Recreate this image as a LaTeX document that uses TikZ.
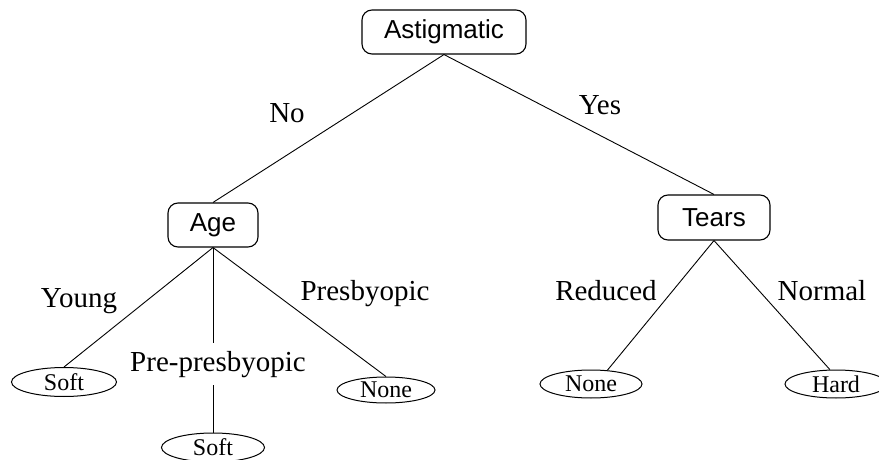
\documentclass[tikz,border=0pt]{standalone}
\usepackage{fontspec}
\setmainfont{Liberation Serif}
\setsansfont{Liberation Sans}
\usetikzlibrary{shapes.geometric}
\begin{document}
\begin{tikzpicture}[x=1pt,y=-1pt,
  line width=0.9pt,
  testbox/.style={draw, rounded corners=10pt, inner sep=0pt, line width=1.1pt,
    font=\sffamily\fontsize{26}{30}\selectfont},
  leaf/.style={draw, ellipse, inner sep=0pt, line width=1pt,
    font=\fontsize{24}{28}\selectfont},
  lbl/.style={anchor=base, inner sep=0pt, font=\fontsize{29}{33}\selectfont}]
\useasboundingbox (0,0) rectangle (879,460);
\node[testbox, minimum width=164pt, minimum height=44pt] (astig) at (444,32) {Astigmatic};
\node[testbox, minimum width=90pt, minimum height=44pt] (age) at (213,225) {Age};
\node[testbox, minimum width=112pt, minimum height=45pt] (tears) at (714,217.5) {Tears};
\node[leaf, minimum width=105pt, minimum height=29pt] (soft1) at (64,382) {Soft};
\node[leaf, minimum width=103pt, minimum height=29pt] (soft2) at (213,447.5) {Soft};
\node[leaf, minimum width=98pt, minimum height=26pt] (none1) at (386,390) {None};
\node[leaf, minimum width=102pt, minimum height=28pt] (none2) at (591,384) {None};
\node[leaf, minimum width=102pt, minimum height=28pt] (hard) at (836,384) {Hard};
\draw (astig.south) -- (age.north);
\draw (astig.south) -- (tears.north);
\draw (age.south) -- (soft1.north);
\draw (age.south) -- (soft2.north);
\draw (age.south) -- (none1.north);
\draw (tears.south) -- (none2.40);
\draw (tears.south) -- (hard.113);
\node[lbl] (lno) at (287,122) {No};
\node[lbl] (lyes) at (600,114) {Yes};
\node[lbl] (lyoung) at (79,307) {Young};
\node[lbl, fill=white, inner ysep=8pt, inner xsep=2pt] (lpre) at (218,371) {Pre-presbyopic};
\node[lbl] (lpres) at (365,300) {Presbyopic};
\node[lbl] (lred) at (606,300) {Reduced};
\node[lbl] (lnorm) at (822,300) {Normal};
\end{tikzpicture}
\end{document}
